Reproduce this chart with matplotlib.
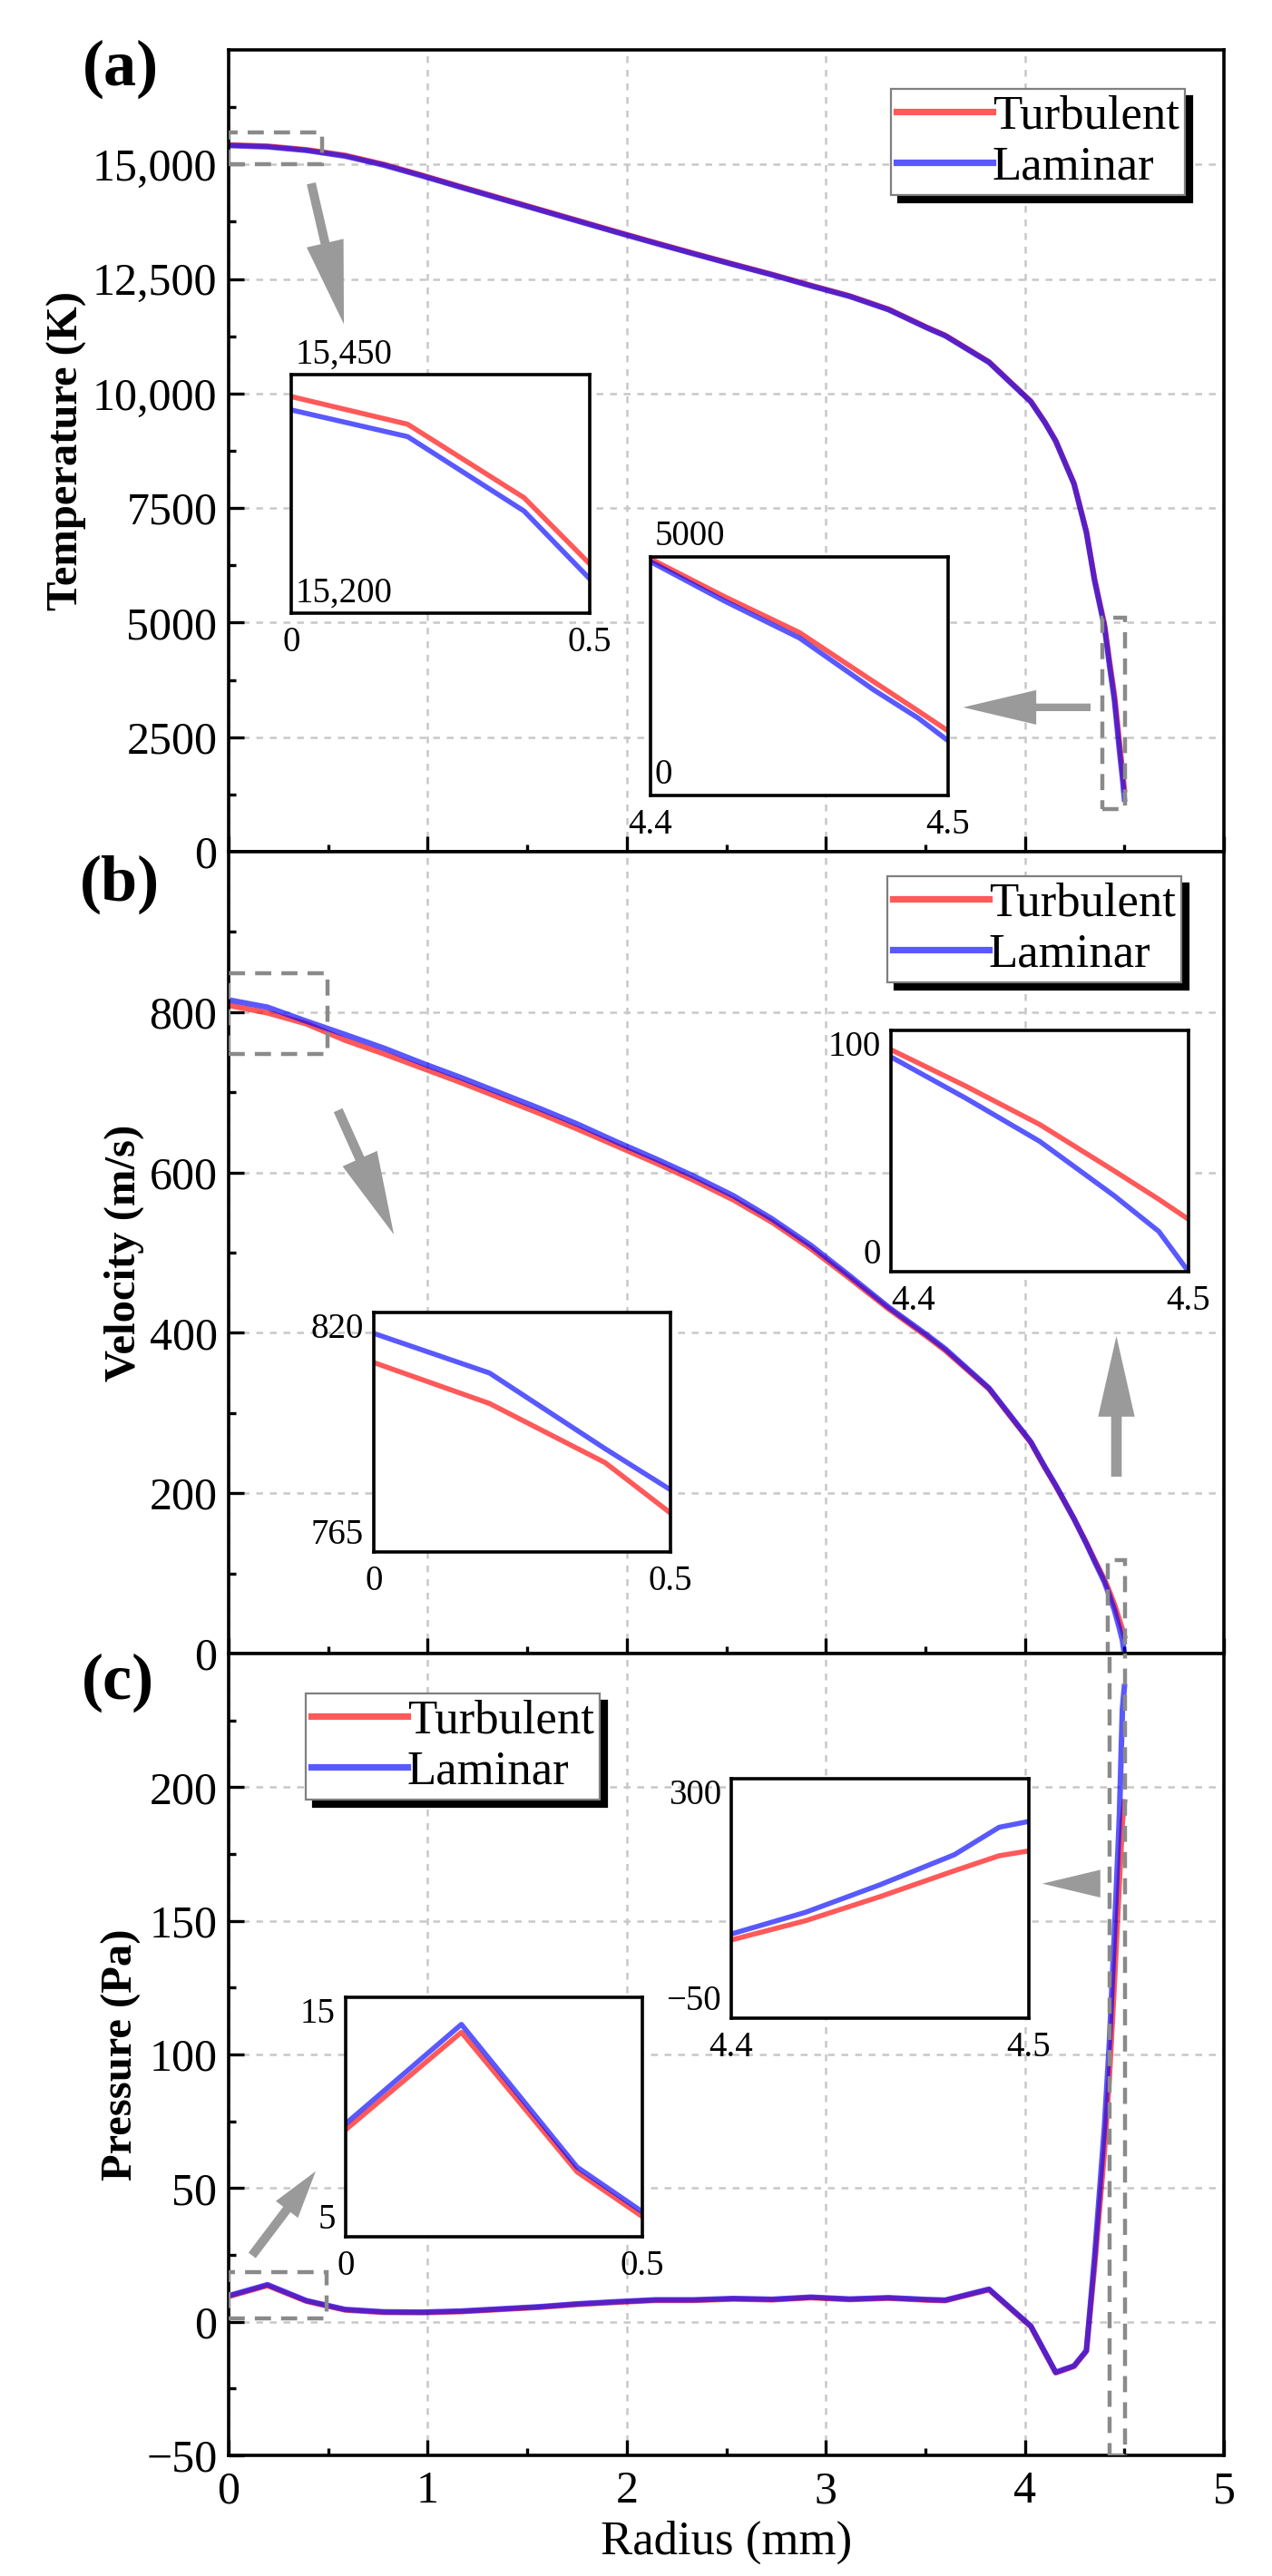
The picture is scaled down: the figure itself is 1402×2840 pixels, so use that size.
import matplotlib
matplotlib.use('Agg')
import matplotlib.pyplot as plt
from matplotlib.patches import Rectangle
from matplotlib.ticker import FuncFormatter, MultipleLocator

plt.rcParams['font.family'] = 'serif'
plt.rcParams['font.serif'] = ['Liberation Serif', 'DejaVu Serif']
plt.rcParams['axes.unicode_minus'] = True

W, H = 1402, 2840
DPI = 200

# radius positions (mm)
radius = [0, 0.195, 0.39, 0.585, 0.78, 0.975, 1.17, 1.365, 1.56, 1.755,
          1.95, 2.145, 2.34, 2.535, 2.73, 2.925, 3.12, 3.315, 3.51, 3.6,
          3.82, 4.03, 4.1, 4.155, 4.247, 4.309, 4.35, 4.4, 4.425, 4.45,
          4.475, 4.49, 4.5]

temp_turb = [15427, 15398, 15321, 15198, 15000, 14760, 14510, 14265, 14020, 13775,
             13530, 13290, 13055, 12825, 12600, 12360, 12130, 11840, 11440, 11270,
             10690, 9830, 9380, 8970, 8040, 6990, 5955, 4960, 4163, 3417,
             2385, 1770, 1353]
temp_lam = [15413, 15385, 15307, 15181, 14985, 14746, 14497, 14252, 14008, 13763,
            13518, 13279, 13045, 12815, 12590, 12350, 12120, 11830, 11430, 11260,
            10680, 9820, 9370, 8960, 8025, 6970, 5920, 4900, 4071, 3303,
            2213, 1620, 1147]

vel_turb = [808.5, 799.1, 785.5, 765, 748, 730, 712, 693, 674, 654,
            633, 612, 590, 566, 538, 505, 468, 430, 395, 378,
            330, 263, 232, 209, 168, 138, 117, 92, 77, 61,
            41.8, 30, 21.7]
vel_lam = [815.2, 806.1, 788.7, 772, 755, 736, 718, 699, 680, 660,
           638, 617, 595, 571, 542, 509, 471, 432, 397, 380,
           331, 264, 233, 210, 168, 137, 115, 89, 72, 54,
           31.5, 16.7, 0]

press_turb = [9.47, 13.54, 7.71, 4.4, 3.5, 3.4, 3.8, 4.6, 5.4, 6.5,
              7.3, 8.0, 8.0, 8.5, 8.2, 9.0, 8.3, 8.8, 8.1, 7.9,
              12.0, -1.8, -11.5, -19.1, -16.7, -11.0, 20.7, 64.3, 92.5, 127.6,
              165.5, 187.4, 194.5]
press_lam = [9.72, 13.87, 7.91, 4.6, 3.7, 3.6, 4.0, 4.8, 5.6, 6.7,
             7.5, 8.2, 8.2, 8.7, 8.4, 9.2, 8.5, 9.0, 8.3, 8.1,
             12.2, -1.6, -11.3, -18.9, -16.5, -10.8, 24.0, 73.0, 104.8, 145.0,
             189.0, 229.0, 237.6]

labels = ['Turbulent', 'Laminar']
col = ['#ff0000', '#0000ff']


def thousands(v, pos=None):
    if abs(v) >= 10000:
        s = f'{v:,.0f}'
    else:
        s = f'{v:.0f}'
    return s.replace('-', '\u2212')


def fig_box(x0, y0, x1, y1):
    return [x0 / W, 1 - y1 / H, (x1 - x0) / W, (y1 - y0) / H]


def draw_lines(ax, y1, y2, lw):
    ax.plot(radius, y1, color=col[0], alpha=0.65, lw=lw, label=labels[0])
    ax.plot(radius, y2, color=col[1], alpha=0.65, lw=lw, label=labels[1])


def style_main(ax, ylim, major, minor):
    ax.set_xlim(0, 5)
    ax.set_ylim(*ylim)
    ax.xaxis.set_major_locator(MultipleLocator(1))
    ax.xaxis.set_minor_locator(MultipleLocator(0.5))
    ax.set_yticks(major)
    ax.set_yticks(minor, minor=True)
    ax.yaxis.set_major_formatter(FuncFormatter(thousands))
    ax.tick_params(which='both', direction='in', top=False, right=False,
                   labelsize=18, width=1.2)
    ax.tick_params(which='major', length=6)
    ax.tick_params(which='minor', length=3)
    ax.tick_params(axis='y', pad=4.5)
    ax.tick_params(axis='x', pad=6)
    ax.grid(True, which='major', color='#c8c8c8', lw=0.9, ls=(0, (3, 3)))
    for s in ax.spines.values():
        s.set_linewidth(1.3)


def add_legend(ax, x0, y0):
    leg = ax.legend(loc='upper left', bbox_to_anchor=(x0 / W, 1 - y0 / H),
                    bbox_transform=fig.transFigure, fontsize=19, frameon=True,
                    fancybox=False, framealpha=1, edgecolor='#7f7f7f',
                    borderpad=0.12, handlelength=2.0, handletextpad=0.0,
                    labelspacing=0.15, borderaxespad=0,
                    shadow={'ox': 3, 'oy': -3, 'color': 'black', 'alpha': 1})
    leg.get_frame().set_linewidth(0.8)
    for ln in leg.get_lines():
        ln.set_linewidth(2.6)


def make_inset(box, xlim, ylim, y1, y2, side_labels=True, shift_first_x=False):
    ia = fig.add_axes(fig_box(*box))
    draw_lines(ia, y1, y2, 2.0)
    ia.set_xlim(*xlim)
    ia.set_ylim(*ylim)
    ia.set_xticks(list(xlim))
    ia.set_yticks(list(ylim))
    ia.xaxis.set_major_formatter(FuncFormatter(lambda v, p: f'{v:g}'))
    ia.yaxis.set_major_formatter(FuncFormatter(thousands))
    ia.tick_params(length=0, labelsize=14)
    ia.tick_params(axis='x', pad=5)
    ia.tick_params(axis='y', pad=4)
    for s in ia.spines.values():
        s.set_linewidth(1.3)
    if side_labels:
        ylabs = ia.get_yticklabels()
        ylabs[0].set_va('bottom')
        ylabs[1].set_va('top')
    else:
        ia.tick_params(axis='y', labelleft=False)
        ia.annotate(thousands(ylim[1]), xy=(0, 1), xycoords='axes fraction',
                    xytext=(1.5, 8), textcoords='offset points',
                    ha='left', va='center', fontsize=14)
        ia.annotate(thousands(ylim[0]), xy=(0, 0), xycoords='axes fraction',
                    xytext=(1.5, 8), textcoords='offset points',
                    ha='left', va='center', fontsize=14)
    if shift_first_x:
        ia.get_xticklabels()[0].set_ha('left')
    return ia


def dash_rect(ax, x, y, w, h):
    ax.add_patch(Rectangle((x, y), w, h, fill=False, edgecolor='#8a8a8a',
                           lw=1.6, ls=(0, (4, 2.5)), zorder=3))


def gray_arrow(ax, tail, tip, hl, hw, tw):
    ax.annotate('', xy=tip, xytext=tail,
                arrowprops=dict(arrowstyle=f'simple,head_length={hl},head_width={hw},tail_width={tw}',
                                color='#9a9a9a', lw=0, shrinkA=0, shrinkB=0,
                                mutation_scale=10))


fig = plt.figure(figsize=(W / DPI, H / DPI), dpi=DPI)

# (a) temperature
ax1 = fig.add_axes(fig_box(252, 55, 1349, 939))
draw_lines(ax1, temp_turb, temp_lam, 2.2)
style_main(ax1, (0, 17500), list(range(0, 15001, 2500)), list(range(1250, 17500, 2500)))
ax1.tick_params(axis='x', labelbottom=False)
ax1.set_ylabel('Temperature (K)', fontsize=17.5, fontweight='bold', labelpad=2)
add_legend(ax1, 982, 98)
dash_rect(ax1, 0, 15000, 0.47, 700)
dash_rect(ax1, 4.389, 931, 0.114, 4180)
gray_arrow(ax1, (0.415, 14586), (0.579, 11514), 3.3, 1.5, 0.36)
gray_arrow(ax1, (4.33, 3151), (3.69, 3151), 2.9, 1.37, 0.3)

# (b) velocity
ax2 = fig.add_axes(fig_box(252, 939, 1349, 1823))
draw_lines(ax2, vel_turb, vel_lam, 2.2)
style_main(ax2, (0, 1000), list(range(0, 801, 200)), list(range(100, 1000, 200)))
ax2.tick_params(axis='x', labelbottom=False)
ax2.set_ylabel('Velocity (m/s)', fontsize=17.5, fontweight='bold', labelpad=2)
add_legend(ax2, 978, 966)
dash_rect(ax2, 0, 748, 0.497, 100)
dash_rect(ax2, 4.416, 0, 0.087, 117)
gray_arrow(ax2, (0.55, 677.6), (0.83, 522.6), 3.3, 1.5, 0.38)
gray_arrow(ax2, (4.46, 220.6), (4.46, 396), 3.2, 1.45, 0.42)

# (c) pressure
ax3 = fig.add_axes(fig_box(252, 1823, 1349, 2707))
draw_lines(ax3, press_turb, press_lam, 2.2)
style_main(ax3, (-50, 250), list(range(-50, 201, 50)), list(range(-25, 250, 50)))
ax3.set_ylabel('Pressure (Pa)', fontsize=17.5, fontweight='bold', labelpad=2)
ax3.set_xlabel('Radius (mm)', fontsize=19, labelpad=3)
add_legend(ax3, 337, 1867)
dash_rect(ax3, 0, 1.1, 0.49, 17.4)
dash_rect(ax3, 4.426, -50, 0.077, 330)
gray_arrow(ax3, (0.118, 24.8), (0.4375, 56.3), 1.9, 1.1, 0.36)
gray_arrow(ax3, (4.38, 163.9), (4.088, 163.9), 2.3, 1.1, 0.02)

# insets
make_inset((321, 413, 650, 676), (0, 0.5), (15200, 15450), temp_turb, temp_lam, side_labels=False)
make_inset((717, 614, 1045, 877), (4.4, 4.5), (0, 5000), temp_turb, temp_lam, side_labels=False)
make_inset((412, 1447, 739, 1711), (0, 0.5), (765, 820), vel_turb, vel_lam)
make_inset((982, 1136, 1310, 1402), (4.4, 4.5), (0, 100), vel_turb, vel_lam, shift_first_x=True)
make_inset((381, 2202, 708, 2466), (0, 0.5), (5, 15), press_turb, press_lam)
make_inset((806, 1961, 1134, 2225), (4.4, 4.5), (-50, 300), press_turb, press_lam)

# panel letters
for txt, x, y in [('(a)', 133, 76), ('(b)', 132, 975), ('(c)', 130, 1855)]:
    fig.text(x / W, 1 - y / H, txt, fontsize=26, fontweight='bold',
             ha='center', va='center')

fig.savefig('out.png', dpi=DPI)
